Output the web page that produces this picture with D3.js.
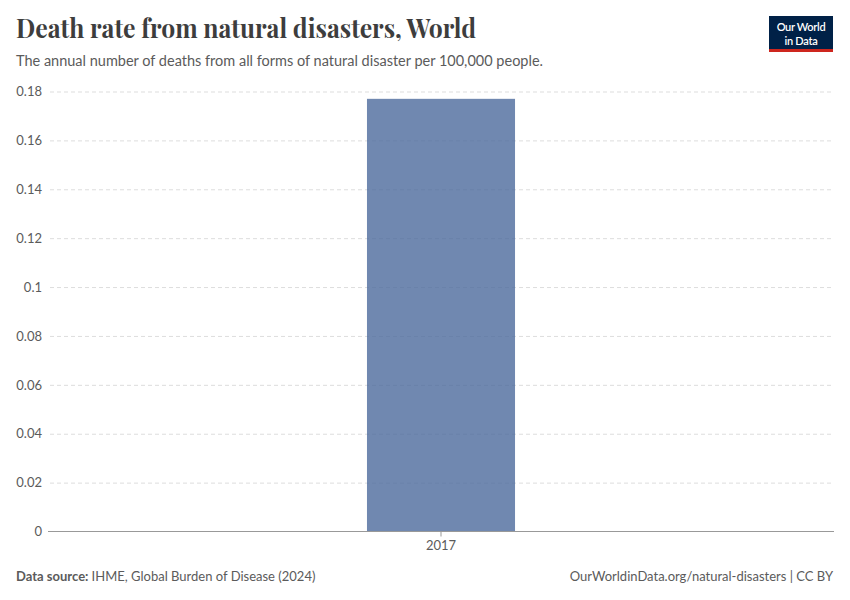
<!DOCTYPE html>
<html>
<head>
<meta charset="utf-8">
<script src="https://cdn.jsdelivr.net/npm/d3@7"></script>
<style>
  body { margin: 0; background: #fff; }
  svg { display: block; }
</style>
</head>
<body>
<svg></svg>
<script>
var years = ["2017"];
var deathRates = [0.177];
var yTicks = [0, 0.02, 0.04, 0.06, 0.08, 0.1, 0.12, 0.14, 0.16, 0.18];

var W = 850, H = 600;
var margin = {top: 91.5, right: 16, bottom: 68.5, left: 48};
var width = W - margin.left - margin.right,
    height = H - margin.top - margin.bottom;

var svg = d3.select("svg")
    .attr("width", W)
    .attr("height", H);

// header
svg.append("text")
    .attr("x", 16).attr("y", 38)
    .attr("font-family", "'Playfair Display', 'Liberation Serif', serif")
    .attr("font-size", 27)
    .attr("font-weight", 700)
    .attr("fill", "#3d3d3d")
    .attr("textLength", 460)
    .attr("lengthAdjust", "spacingAndGlyphs")
    .text("Death rate from natural disasters, World");

svg.append("text")
    .attr("x", 16).attr("y", 66)
    .attr("font-family", "Lato, sans-serif")
    .attr("font-size", 14.5)
    .attr("fill", "#5b5b5b")
    .text("The annual number of deaths from all forms of natural disaster per 100,000 people.");

// logo
var logo = svg.append("g").attr("transform", "translate(769,16)");
logo.append("rect").attr("width", 64).attr("height", 36).attr("fill", "#002147");
logo.append("rect").attr("y", 33).attr("width", 64).attr("height", 3).attr("fill", "#ce261e");
logo.selectAll(".logo-line")
    .data(["Our World", "in Data"])
    .enter()
    .append("text")
        .attr("class", "logo-line")
        .attr("x", 32)
        .attr("y", function(d, i) { return 15 + i * 13.5; })
        .attr("text-anchor", "middle").attr("fill", "#fff")
        .attr("font-family", "Lato, sans-serif").attr("font-size", 11).attr("font-weight", 600)
        .attr("letter-spacing", -0.3)
        .text(function(d) { return d; });

var g = svg.append("g")
    .attr("transform", "translate(" + margin.left + "," + margin.top + ")");

var x = d3.scaleBand()
    .domain(years)
    .range([0, width])
    .padding(0.683);

var y = d3.scaleLinear()
    .domain([0, 0.18])
    .range([height, 0]);

// gridlines + y labels
var yAxis = g.append("g")
    .call(d3.axisLeft(y).tickValues(yTicks).tickSize(-width).tickFormat(d3.format("~g")));
yAxis.select(".domain").remove();
yAxis.selectAll(".tick line")
    .attr("x1", 2)
    .attr("stroke", "#dddddd")
    .attr("stroke-dasharray", "4,3");
yAxis.selectAll(".tick").filter(function(d) { return d === 0; }).select("line").remove();
yAxis.selectAll(".tick text")
    .attr("x", -6)
    .attr("font-family", "Lato, sans-serif")
    .attr("font-size", 13)
    .attr("fill", "#5b5b5b");

// bars
g.selectAll(".bar")
    .data(deathRates)
    .enter()
    .append("rect")
        .attr("class", "bar")
        .attr("x", function(d, i) { return x(years[i]); })
        .attr("width", x.bandwidth())
        .attr("y", function(d) { return y(d); })
        .attr("height", function(d) { return height - y(d); })
        .attr("fill", "#4c6a9c")
        .attr("fill-opacity", 0.8);

// x axis
var xAxis = g.append("g")
    .attr("transform", "translate(0," + height + ")")
    .call(d3.axisBottom(x).tickSize(5).tickPadding(4));
xAxis.select(".domain")
    .attr("stroke", "#999")
    .attr("d", "M0,0H" + width);
xAxis.selectAll(".tick line").attr("stroke", "#999");
xAxis.selectAll(".tick text")
    .attr("font-family", "Lato, sans-serif")
    .attr("font-size", 13)
    .attr("fill", "#5b5b5b");

// footer
var foot = svg.append("text")
    .attr("x", 16).attr("y", 581)
    .attr("font-family", "Lato, sans-serif")
    .attr("font-size", 13)
    .attr("fill", "#5b5b5b");
foot.append("tspan").attr("font-weight", 700).text("Data source: ");
foot.append("tspan").text("IHME, Global Burden of Disease (2024)");

svg.append("text")
    .attr("x", 833).attr("y", 581)
    .attr("text-anchor", "end")
    .attr("font-family", "Lato, sans-serif")
    .attr("font-size", 13)
    .attr("fill", "#5b5b5b")
    .text("OurWorldinData.org/natural-disasters | CC BY");
</script>
</body>
</html>
